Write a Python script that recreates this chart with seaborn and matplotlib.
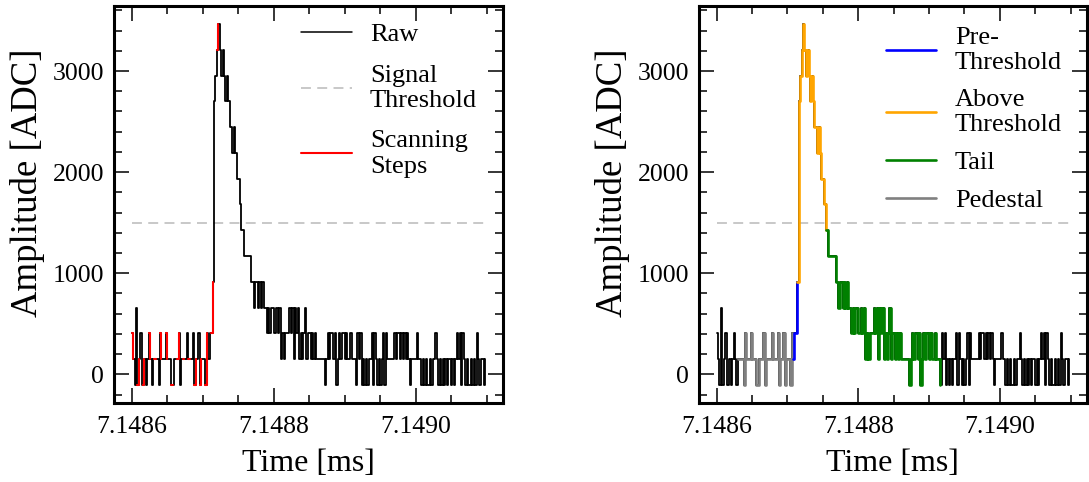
import numpy as np
import pandas as pd
import matplotlib
matplotlib.use("Agg")
import matplotlib.pyplot as plt
from matplotlib.ticker import MultipleLocator, FormatStrFormatter
from matplotlib.lines import Line2D
import seaborn as sns

# ---------------- data ----------------
t_start = 7.1486          # ms, first sample
dt = 2e-6                 # ms per sample (2 ns)

# raw ADC samples (250 samples)
raw_adc = [
    405, 150, -105, 660, -105, 150, 405, -105, -105, 150,
    -105, 150, 405, 150, -105, 150, 150, 150, 150, -105,
    405, 150, 150, 150, 405, 150, 150, 150, -105, -105,
    150, 150, 150, 405, -105, 150, 150, 150, 150, 405,
    150, 150, 150, 405, -105, 150, 150, 405, -105, 150,
    150, 150, -105, 405, 150, 405, 405, 915, 2700, 2955,
    3210, 3465, 3210, 2955, 3210, 2955, 2700, 2955, 2700, 2445,
    2445, 2190, 2445, 2190, 1935, 1935, 1680, 1425, 1425, 1170,
    1170, 1170, 1170, 1170, 915, 915, 660, 915, 915, 660,
    915, 660, 915, 660, 660, 405, 660, 405, 660, 660,
    405, 405, 660, 405, 660, 150, 405, 150, 405, 405,
    405, 660, 405, 660, 150, 660, 405, 660, 150, 405,
    150, 405, 660, 150, 405, 405, 150, 405, 150, 405,
    150, 150, 150, 150, 150, 150, -105, 150, 405, 150,
    405, 405, 150, 405, -105, 150, 405, 150, 405, 405,
    150, 405, 150, 150, 405, 150, 150, 150, -105, 405,
    150, 405, -105, 150, -105, 150, -105, 150, 150, 405,
    -105, 405, 150, -105, 150, -105, 150, 405, -105, 405,
    150, 150, 150, 150, 150, 405, 150, 405, 405, 150,
    405, 150, 405, 150, 405, 150, -105, 150, 150, 150,
    150, 405, 150, 150, -105, 150, -105, 150, -105, -105,
    150, -105, 150, 150, 405, 150, -105, 150, -105, 150,
    -105, 150, -105, 150, 150, -105, 150, -105, 150, 405,
    150, 405, -105, 405, 150, -105, 150, -105, -105, 150,
    -105, 150, -105, 405, 150, -105, 150, 150, -105, 150,
]

signal_threshold = 1500

# sample-index boundaries of the pulse regions (right panel)
pedestal_range = (15, 54)
pre_threshold_range = (54, 57)
above_threshold_range = (57, 77)
tail_range = (77, 158)
peak_index = 61
scan_period = 4

legend_left = ["Raw", "Signal\nThreshold", "Scanning\nSteps"]
legend_right = ["Pre-\nThreshold", "Above\nThreshold", "Tail", "Pedestal"]

# ---------------- frame ----------------
n = len(raw_adc)
df = pd.DataFrame({"idx": np.arange(n),
                   "time": t_start + dt * np.arange(n),
                   "adc": raw_adc})

# scanning windows (every scan_period samples, up to the peak)
scan_parts = []
for m, c in enumerate(range(0, peak_index, scan_period)):
    lo, hi = c, min(c + 1, peak_index)
    part = df[(df.idx >= lo) & (df.idx <= hi)].copy()
    part["unit"] = m
    scan_parts.append(part)
scan_df = pd.concat(scan_parts)

thr_df = pd.DataFrame({"time": [df.time.iloc[0], df.time.iloc[-1]],
                       "adc": [signal_threshold, signal_threshold]})

# ---------------- style ----------------
sns.set_style("ticks")
plt.rcParams["font.family"] = ["Liberation Serif", "DejaVu Serif"]
plt.rcParams["axes.linewidth"] = 2.2
plt.rcParams["axes.edgecolor"] = "black"
plt.rcParams["text.color"] = "black"
plt.rcParams["axes.labelcolor"] = "black"
plt.rcParams["xtick.color"] = "black"
plt.rcParams["ytick.color"] = "black"

fig = plt.figure(figsize=(10.89, 4.82), dpi=100)
ax1 = fig.add_axes([0.1047, 0.1639, 0.357, 0.8237])
ax2 = fig.add_axes([0.6419, 0.1639, 0.356, 0.8237])

thr_color = "#c4c4c4"
thr_ls = (0, (5.5, 3.5))


def seg(lo_hi):
    lo, hi = lo_hi
    return df[(df.idx >= lo) & (df.idx <= hi)]


# left panel
sns.lineplot(data=df, x="time", y="adc", ax=ax1, color="black", lw=1.3,
             drawstyle="steps-post", estimator=None, zorder=2)
sns.lineplot(data=thr_df, x="time", y="adc", ax=ax1, color=thr_color,
             lw=1.3, linestyle=thr_ls, estimator=None, zorder=1)
sns.lineplot(data=scan_df, x="time", y="adc", units="unit", ax=ax1,
             color="red", lw=1.5, drawstyle="steps-post", estimator=None,
             zorder=3)

# right panel
sns.lineplot(data=df, x="time", y="adc", ax=ax2, color="black", lw=1.3,
             drawstyle="steps-post", estimator=None, zorder=2)
sns.lineplot(data=thr_df, x="time", y="adc", ax=ax2, color=thr_color,
             lw=1.3, linestyle=thr_ls, estimator=None, zorder=1)
region_colors = [("#808080", pedestal_range), ("blue", pre_threshold_range),
                 ("orange", above_threshold_range), ("green", tail_range)]
for col, rng in region_colors:
    sns.lineplot(data=seg(rng), x="time", y="adc", ax=ax2, color=col, lw=1.9,
                 drawstyle="steps-post", estimator=None, zorder=3)

for ax in (ax1, ax2):
    ax.set_xlabel("Time [ms]", fontsize=23, labelpad=8)
    ax.set_ylabel("Amplitude [ADC]", fontsize=26.5)
    ax.yaxis.set_label_coords(-0.178, 0.556)
    ax.xaxis.set_major_locator(MultipleLocator(0.0002))
    ax.xaxis.set_minor_locator(MultipleLocator(0.00005))
    ax.xaxis.set_major_formatter(FormatStrFormatter("%.4f"))
    ax.yaxis.set_major_locator(MultipleLocator(1000))
    ax.yaxis.set_minor_locator(MultipleLocator(200))
    ax.tick_params(which="both", direction="in", top=True, right=True,
                   labelsize=18.5, width=1.1)
    ax.tick_params(axis="x", which="both", pad=9)
    ax.tick_params(axis="y", which="both", pad=7)
    ax.tick_params(which="major", length=11)
    ax.tick_params(which="minor", length=5.5)
    for sp in ax.spines.values():
        sp.set_linewidth(2.2)
        sp.set_color("black")

h_left = [Line2D([], [], color="black", lw=1.1),
          Line2D([], [], color=thr_color, lw=1.3, linestyle=thr_ls),
          Line2D([], [], color="red", lw=1.5)]
leg1 = ax1.legend(h_left, legend_left, loc="upper left",
                  bbox_to_anchor=(0.482, 0.958), frameon=False, fontsize=19,
                  handlelength=1.9, handletextpad=0.7, labelspacing=0.7,
                  borderpad=0, borderaxespad=0)
h_right = [Line2D([], [], color="blue", lw=1.9),
           Line2D([], [], color="orange", lw=1.9),
           Line2D([], [], color="green", lw=1.9),
           Line2D([], [], color="#808080", lw=1.9)]
leg2 = ax2.legend(h_right, legend_right, loc="upper left",
                  bbox_to_anchor=(0.483, 0.947), frameon=False, fontsize=19,
                  handlelength=1.9, handletextpad=0.7, labelspacing=0.55,
                  borderpad=0, borderaxespad=0)

fig.savefig("out.png", dpi=100)
